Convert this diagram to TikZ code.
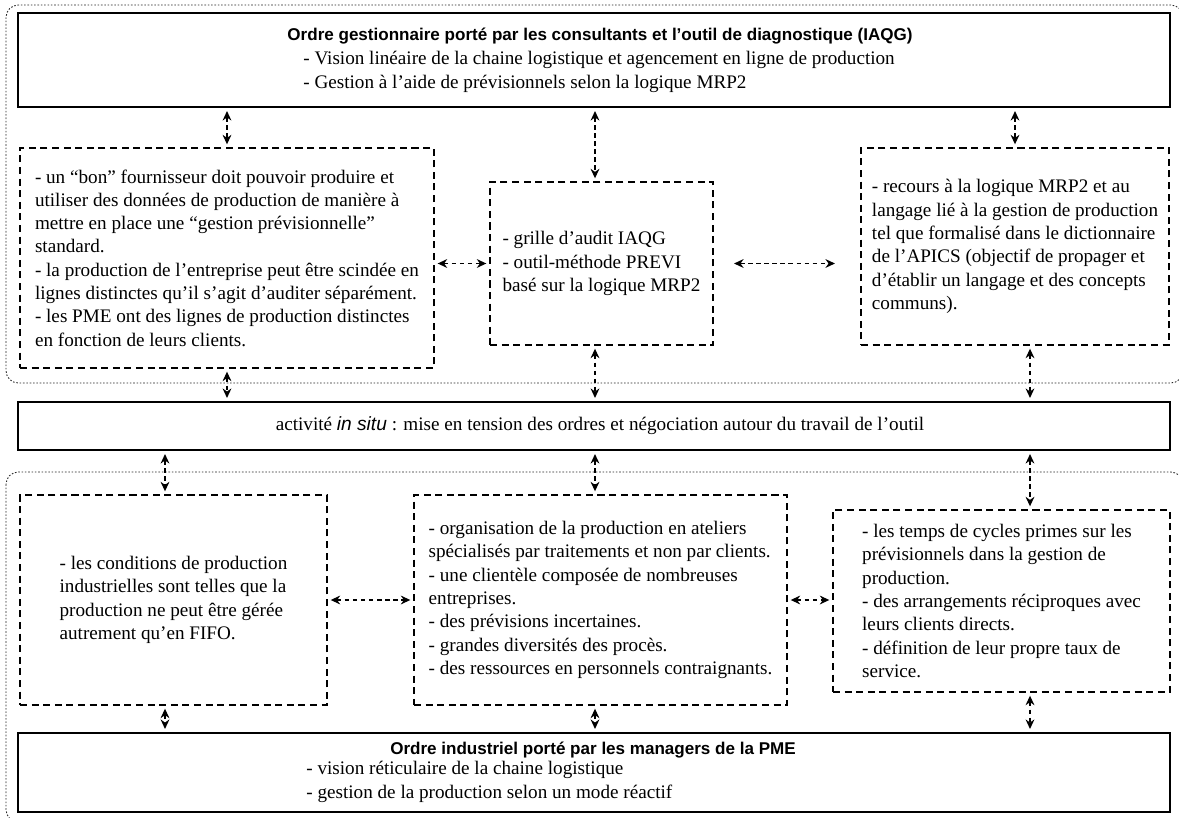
\documentclass[tikz,border=0pt]{standalone}
\usepackage{fontspec}
\setmainfont{Liberation Serif}
\newfontfamily\headfont{Liberation Sans}
\usetikzlibrary{arrows.meta}
\newcommand\bodysize{\fontsize{10.9}{13.26}\selectfont}
\newcommand\headsize{\fontsize{9.7}{11.6}\selectfont}
\tikzset{
  ordrebox/.style={draw, line width=1.6pt, inner sep=0pt},
  notebox/.style={draw, line width=1.2pt, dash pattern=on 4pt off 2.6pt, inner sep=0pt, align=left, font=\bodysize},
  grp/.style={draw=black!85, line width=0.5pt, dash pattern=on 0.9pt off 1pt, rounded corners=7pt},
  link/.style={<->, >={Stealth[length=5.4pt,width=5pt]}, line width=0.8pt, dash pattern=on 2.6pt off 2pt, shorten <=1.5pt, shorten >=1.5pt},
  headtxt/.style={font=\headfont\bfseries\headsize, inner sep=0pt},
  bodytxt/.style={font=\bodysize, align=left, inner sep=0pt}
}

\begin{document}
\begin{tikzpicture}[x=0.2mm,y=-0.2mm]
  \useasboundingbox (0,0) rectangle (1179,818);

  % groups
  \draw[grp] (6,5) rectangle (1183,383);
  \draw[grp] (6,472) rectangle (1183,822);

  % columns of the vertical arrows
  \coordinate (colLL) at (165,0);
  \coordinate (colM) at (595,0);
  \coordinate (colR) at (1030,0);

  % ordre gestionnaire
  \node[ordrebox, minimum width=230.4mm, minimum height=18.8mm] (ordreg) at (594,60) {};
  \node[headtxt] (ordreg-t) at (600,36) {Ordre gestionnaire porté par les consultants et l’outil de diagnostique (IAQG)};
  \node[bodytxt, anchor=west] (ordreg-l) at (303,72) {- Vision linéaire de la chaine logistique et agencement en ligne de production\\- Gestion à l’aide de prévisionnels selon la logique MRP2};

  \node[notebox, minimum width=82.8mm, minimum height=44mm] (ul) at (227,258) {- un “bon” fournisseur doit pouvoir produire et\\utiliser des données de production de manière à\\mettre en place une “gestion prévisionnelle”\\standard.\\- la production de l’entreprise peut être scindée en\\lignes distinctes qu’il s’agit d’auditer séparément.\\- les PME ont des lignes de production distinctes\\en fonction de leurs clients.};
  \node[notebox, minimum width=44.6mm, minimum height=32.6mm] (um) at (601.5,263.5) {- grille d’audit IAQG\\- outil-méthode PREVI\\basé sur la logique MRP2};
  \node[notebox, minimum width=61.6mm, minimum height=39.4mm] (ur) at (1015,246.5) {- recours à la logique MRP2 et au\\langage lié à la gestion de production\\tel que formalisé dans le dictionnaire\\de l’APICS (objectif de propager et\\d’établir un langage et des concepts\\communs).};

  % activite
  \node[ordrebox, minimum width=230.4mm, minimum height=9.6mm] (act) at (594,426) {};
  \node[bodytxt] (act-t) at (600,426) {activité {\headfont\itshape in situ} : mise en tension des ordres et négociation autour du travail de l’outil};

  % ordre industriel
  \node[notebox, minimum width=61.4mm, minimum height=42mm] (ll) at (173.5,600) {- les conditions de production\\industrielles sont telles que la\\production ne peut être gérée\\autrement qu’en FIFO.};
  \node[notebox, minimum width=74.6mm, minimum height=42mm] (lm) at (600.5,600) {- organisation de la production en ateliers\\spécialisés par traitements et non par clients.\\- une clientèle composée de nombreuses\\entreprises.\\- des prévisions incertaines.\\- grandes diversités des procès.\\- des ressources en personnels contraignants.};
  \node[notebox, minimum width=67.4mm, minimum height=36.4mm] (lr) at (1001.5,601) {- les temps de cycles primes sur les\\prévisionnels dans la gestion de\\production.\\- des arrangements réciproques avec\\leurs clients directs.\\- définition de leur propre taux de\\service.};

  \node[ordrebox, minimum width=230.4mm, minimum height=15.8mm] (ordrei) at (594,772.5) {};
  \node[headtxt] (ordrei-t) at (593,750) {Ordre industriel porté par les managers de la PME};
  \node[bodytxt, anchor=west] (ordrei-l) at (306,782) {- vision réticulaire de la chaine logistique\\- gestion de la production selon un mode réactif};

  % links
  \draw[link] (ordreg.south -| ul.north) -- (ul.north);
  \draw[link] (ordreg.south -| colM) -- (um.north -| colM);
  \draw[link] (ordreg.south -| ur.north) -- (ur.north);
  \draw[link] (um.west -| ul.east) -- (um.west);
  \draw[link, shorten <=4mm, shorten >=5mm] (um.east) -- (um.east -| ur.west);
  \draw[link] (ul.south) -- (act.north -| ul.south);
  \draw[link] (um.south -| colM) -- (act.north -| colM);
  \draw[link] (ur.south -| colR) -- (act.north -| colR);
  \draw[link] (act.south -| colLL) -- (ll.north -| colLL);
  \draw[link] (act.south -| colM) -- (lm.north -| colM);
  \draw[link] (act.south -| colR) -- (lr.north -| colR);
  \draw[link] (ll.east) -- (ll.east -| lm.west);
  \draw[link] (lm.east) -- (lm.east -| lr.west);
  \draw[link] (ll.south -| colLL) -- (ordrei.north -| colLL);
  \draw[link] (lm.south -| colM) -- (ordrei.north -| colM);
  \draw[link] (lr.south -| colR) -- (ordrei.north -| colR);
\end{tikzpicture}
\end{document}
